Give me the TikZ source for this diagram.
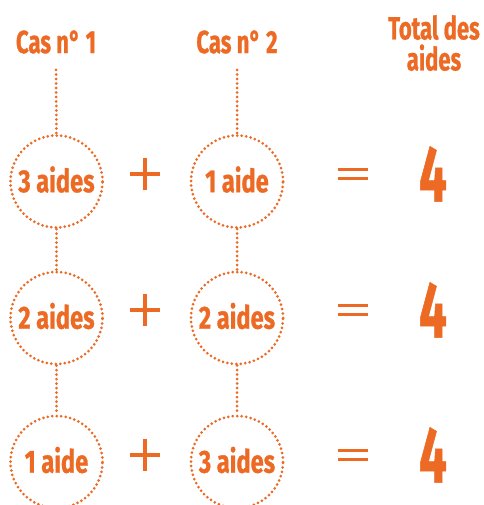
\documentclass[tikz,border=0pt]{standalone}
\usepackage{fontspec}
\newfontfamily\lblfont{Fira Sans Bold}[FakeStretch=0.74,FakeBold=0.8]
\newfontfamily\ttlfont{Fira Sans Bold}[FakeStretch=0.69,FakeBold=0.8]
\newfontfamily\bigfont{Fira Sans Bold}[FakeStretch=0.62,FakeBold=0.6]
\definecolor{orng}{HTML}{EC6A24}
\begin{document}
\begin{tikzpicture}[x=1pt,y=-1pt,
  dotline/.style={draw=orng,line width=3pt,line cap=round,dash pattern=on 0pt off 4.5pt},
  circ/.style={circle,minimum size=92pt,inner sep=0pt,dotline},
  lbl/.style={text=orng,font=\lblfont\fontsize{32}{34}\selectfont,inner sep=0pt,yshift=2pt},
  title/.style={text=orng,font=\ttlfont\fontsize{32}{31}\selectfont,inner sep=0pt,align=center},
  op/.style={orng,line width=3.6pt},
  big/.style={text=orng,font=\bigfont\fontsize{80}{80}\selectfont,inner sep=0pt}]
\useasboundingbox (0,0) rectangle (483,505);
% titles
\node[title] (t1) at (56,42) {Cas n° 1};
\node[title] (t2) at (237,42) {Cas n° 2};
\node[title] (t3) at (434,43) {Total des\\aides};
\coordinate (s1) at (56,70);
\coordinate (s2) at (237,70);
% circles
\node[circ] (a1) at (56.5,181.5) {};
\node[circ] (a2) at (56.5,318) {};
\node[circ] (a3) at (56.5,462) {};
\node[circ] (b1) at (237,181.5) {};
\node[circ] (b2) at (237,318) {};
\node[circ] (b3) at (237,462) {};
\node[lbl] at (a1) {3 aides};
\node[lbl] at (a2) {2 aides};
\node[lbl] at (a3) {1 aide};
\node[lbl] at (b1) {1 aide};
\node[lbl] at (b2) {2 aides};
\node[lbl] at (b3) {3 aides};
% connectors
\draw[dotline] (s1) -- (a1.north);
\draw[dotline] (a1.south) -- (a2.north);
\draw[dotline] (a2.south) -- (a3.north);
\draw[dotline] (s2) -- (b1.north);
\draw[dotline] (b1.south) -- (b2.north);
\draw[dotline] (b2.south) -- (b3.north);
% operators
\foreach \y/\n in {174/1,310/2,455/3}{
  \coordinate (p\n) at (145,\y);
  \draw[op] ([xshift=-15pt]p\n) -- ([xshift=15pt]p\n) ([yshift=-16pt]p\n) -- ([yshift=16pt]p\n);
  \coordinate (e\n) at (353,\y);
  \draw[op] ([shift={(-15pt,-4.5pt)}]e\n) -- ([shift={(15pt,-4.5pt)}]e\n)
            ([shift={(-15pt,4.5pt)}]e\n) -- ([shift={(15pt,4.5pt)}]e\n);
  \node[big] (r\n) at (433,\y) {4};
}
\end{tikzpicture}
\end{document}
